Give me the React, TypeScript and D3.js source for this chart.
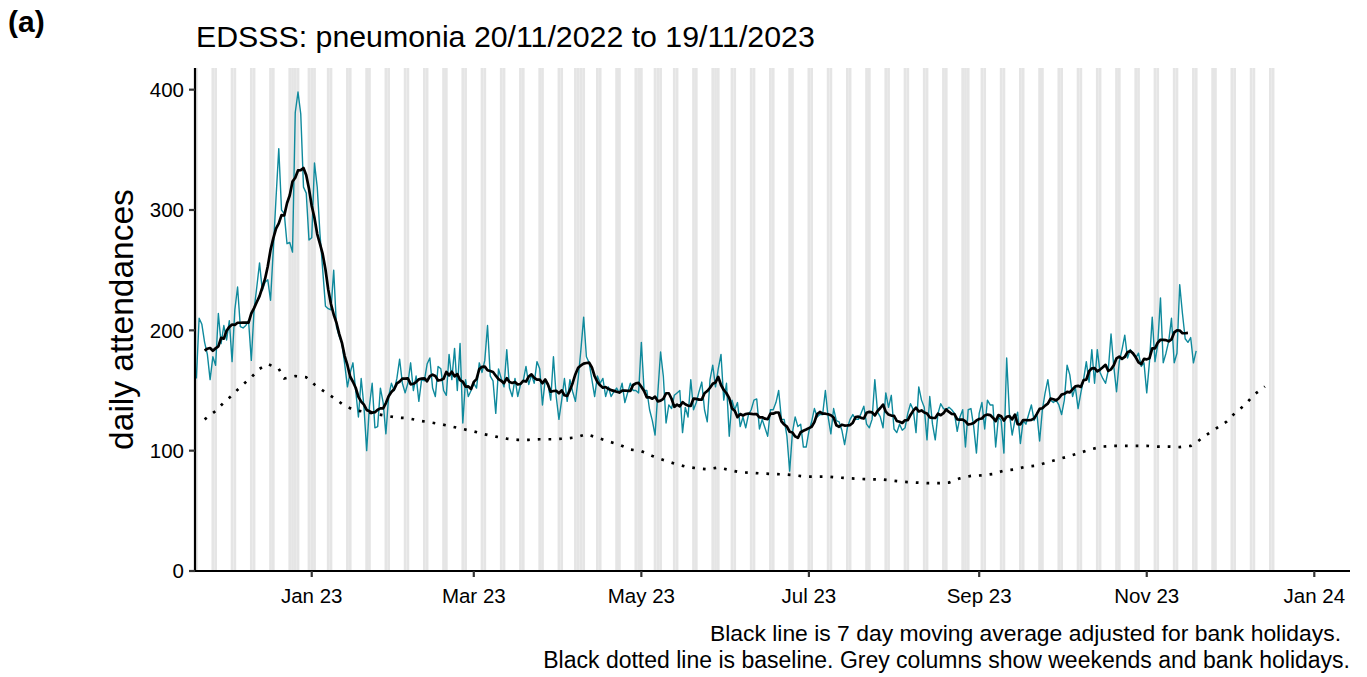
import React from "react";
import * as d3 from "d3";

// Daily attendances, one value per day starting Sunday 20/11/2022 (rows = weeks Sun..Sat)
const dailyCounts: number[] = [
  160, 210, 205, 190, 180, 159, 178,
  171, 214, 189, 204, 192, 208, 174,
  217, 236, 203, 202, 204, 208, 175,
  217, 236, 256, 233, 240, 242, 225,
  267, 310, 351, 300, 297, 272, 273,
  265, 381, 398, 380, 319, 314, 275,
  277, 339, 319, 280, 250, 220, 218,
  217, 250, 203, 195, 189, 172, 153,
  165, 173, 150, 128, 160, 137, 100,
  137, 156, 119, 120, 152, 140, 114,
  145, 156, 150, 160, 176, 156, 148,
  156, 173, 150, 162, 141, 159, 158,
  172, 177, 152, 145, 170, 168, 150,
  146, 180, 159, 185, 150, 189, 123,
  159, 145, 150, 156, 152, 173, 165,
  175, 204, 162, 158, 131, 168, 160,
  153, 184, 152, 145, 160, 145, 155,
  158, 170, 155, 163, 156, 174, 168,
  138, 159, 155, 142, 178, 145, 126,
  142, 160, 141, 159, 149, 141, 160,
  184, 211, 178, 173, 159, 145, 162,
  156, 160, 145, 153, 145, 149, 152,
  148, 156, 140, 148, 156, 150, 150,
  148, 190, 150, 150, 134, 125, 113,
  148, 182, 162, 123, 138, 135, 146,
  148, 150, 115, 136, 128, 159, 134,
  140, 149, 157, 134, 124, 159, 171,
  153, 168, 180, 142, 156, 112, 142,
  134, 140, 120, 128, 119, 130, 134,
  142, 143, 118, 126, 119, 112, 134,
  134, 140, 150, 126, 126, 112, 83,
  115, 128, 120, 122, 103, 103, 116,
  124, 135, 128, 130, 130, 150, 128,
  114, 135, 125, 124, 117, 105, 119,
  126, 130, 126, 126, 131, 137, 122,
  119, 126, 159, 132, 128, 119, 148,
  136, 146, 118, 115, 122, 117, 119,
  131, 139, 134, 115, 153, 142, 136,
  109, 145, 122, 109, 131, 139, 135,
  134, 136, 134, 131, 116, 128, 134,
  103, 134, 135, 120, 98, 131, 140,
  118, 142, 138, 138, 103, 128, 125,
  98, 177, 131, 113, 125, 132, 106,
  125, 122, 130, 138, 125, 131, 108,
  134, 148, 159, 142, 140, 142, 138,
  130, 142, 171, 163, 145, 153, 135,
  148, 159, 174, 157, 184, 156, 184,
  165, 160, 156, 167, 197, 170, 149,
  174, 184, 196, 177, 184, 181, 177,
  181, 170, 173, 148, 174, 211, 174,
  188, 227, 173, 181, 191, 210, 173,
  181, 238, 214, 193, 190, 194, 173,
  183,
];

// Baseline: day offsets from 20/11/2022 and values
const baselineDays: number[] = [
  3, 7, 10, 13, 16, 20, 23, 26, 30, 32, 36, 40, 43, 46, 50, 53, 57, 69, 73, 77,
  81, 85, 89, 93, 97, 101, 105, 109, 113, 117, 121, 125, 130, 134, 138, 142, 146,
  150, 154, 158, 162, 166, 170, 174, 178, 182, 186, 190, 194, 198, 202, 206, 210,
  214, 218, 222, 226, 230, 234, 238, 242, 246, 250, 254, 258, 262, 266, 270, 274,
  278, 282, 286, 290, 294, 298, 302, 306, 310, 314, 318, 322, 326, 330, 334, 338,
  342, 346, 350, 354, 358, 362, 364, 367, 371, 375, 378, 382, 385, 389,
];
const baselineValues: number[] = [
  126, 133, 140, 146, 153, 161, 168, 172, 168, 160, 162, 161, 155, 150, 144, 139, 134, 129, 127.5, 127,
  125, 123.6, 122, 120, 118, 116, 113.6, 111.7, 110, 109, 109, 109.5, 109.5, 110, 111, 113.6, 110.8,
  107.7, 105, 101, 99.6, 95.6, 92.3, 89.3, 86.8, 85.4, 84.6, 86, 84, 82, 81.7, 81, 80.6,
  80.3, 79.5, 78.4, 78.4, 78.4, 77.6, 77, 76.5, 76.2, 76, 75, 74, 73.5, 73, 73, 73.5,
  77, 79, 79.5, 80.6, 83.4, 84.5, 86.7, 87.6, 90.4, 93, 95.6, 98.4, 101.4, 103.4, 104, 104,
  104, 104, 103.4, 103.4, 103, 104, 106.7, 112, 118, 124, 131, 138.6, 146.4, 153.3,
];

const bankHolidays: string[] = [
  "2022-12-26", "2022-12-27", "2023-01-02", "2023-04-07", "2023-04-10",
  "2023-05-01", "2023-05-08", "2023-05-29", "2023-08-28",
];
const shadeEnd = "2023-12-17";

const xTickDates: string[] = [
  "2023-01-01", "2023-03-01", "2023-05-01", "2023-07-01", "2023-09-01", "2023-11-01", "2024-01-01",
];
const yTicks: number[] = [0, 100, 200, 300, 400];

const START = Date.UTC(2022, 10, 20);
const DAY = 86400000;
const FONT = "'Liberation Sans', Arial, Helvetica, sans-serif";

export default function App() {
  const W = 1367;
  const H = 677;
  const left = 195;
  const right = 1350;
  const top = 68;
  const bottom = 571;

  const x = d3
    .scaleUtc()
    .domain([new Date(Date.UTC(2022, 10, 19, 12)), new Date(Date.UTC(2024, 0, 14))])
    .range([left, right]);
  const y = d3.scaleLinear().domain([0, 418]).range([bottom, top]);

  const dayDate = (d: number) => new Date(START + d * DAY);

  // grey columns
  const bh = new Set(bankHolidays);
  const endShade = Date.parse(shadeEnd + "T00:00:00Z");
  const shaded: number[] = [];
  for (let d = -1; START + d * DAY <= endShade; d++) {
    const dt = dayDate(d);
    const wd = dt.getUTCDay();
    const iso = dt.toISOString().slice(0, 10);
    if (wd === 0 || wd === 6 || bh.has(iso)) shaded.push(d);
  }

  const pts: [number, number][] = dailyCounts.map((v, i) => [i, v]);
  const ma: [number, number][] = [];
  for (let i = 3; i < dailyCounts.length - 3; i++) {
    const m = d3.mean(dailyCounts.slice(i - 3, i + 4)) as number;
    ma.push([i, m]);
  }
  const base: [number, number][] = baselineDays.map((d, i) => [d, baselineValues[i]]);

  const line = d3
    .line<[number, number]>()
    .x((p) => x(dayDate(p[0])))
    .y((p) => y(p[1]));

  const fmt = d3.utcFormat("%b %y");

  return (
    <svg
      width={W}
      height={H}
      style={{ position: "absolute", left: 0, top: 0, display: "block", background: "#fff" }}
      fontFamily={FONT}
    >
      <defs>
        <clipPath id="panel">
          <rect x={left} y={top} width={right - left} height={bottom - top} />
        </clipPath>
      </defs>
      <g clipPath="url(#panel)">
        {shaded.map((d) => {
          const x0 = x(new Date(START + (d - 0.5) * DAY));
          const x1 = x(new Date(START + (d + 0.5) * DAY));
          return <rect key={d} x={x0} y={top} width={x1 - x0} height={bottom - top} fill="#e5e5e5" />;
        })}
        <path d={line(pts) || ""} fill="none" stroke="#0f8a9d" strokeWidth={1.4} strokeLinejoin="round" />
        <path d={line(ma) || ""} fill="none" stroke="#000" strokeWidth={2.7} strokeLinejoin="round" />
        <path
          d={line(base) || ""}
          fill="none"
          stroke="#000"
          strokeWidth={2.7}
          strokeDasharray="2.7 8"
        />
      </g>

      {/* axes */}
      <line x1={left} x2={right} y1={bottom} y2={bottom} stroke="#000" strokeWidth={2.2} />
      <line x1={left} x2={left} y1={top} y2={bottom + 1.1} stroke="#000" strokeWidth={2.2} />
      {xTickDates.map((s) => {
        const dt = new Date(s + "T00:00:00Z");
        const xx = x(dt);
        return (
          <g key={s}>
            <line x1={xx} x2={xx} y1={bottom} y2={bottom + 6} stroke="#333" strokeWidth={2.2} />
            <text x={xx} y={603} textAnchor="middle" fontSize={20.5} fill="#000">
              {fmt(dt)}
            </text>
          </g>
        );
      })}
      {yTicks.map((t) => (
        <g key={t}>
          <line x1={left - 6} x2={left} y1={y(t)} y2={y(t)} stroke="#333" strokeWidth={2.2} />
          <text x={left - 11} y={y(t)} dy="0.35em" textAnchor="end" fontSize={20.5} fill="#000">
            {t}
          </text>
        </g>
      ))}

      <text
        transform={`translate(133,${(top + bottom) / 2}) rotate(-90)`}
        textAnchor="middle"
        fontSize={33.5}
        fill="#000"
      >
        daily attendances
      </text>

      <text x={196} y={47} fontSize={30.3} fill="#000">
        EDSSS: pneumonia 20/11/2022 to 19/11/2023
      </text>
      <text x={8} y={32} fontSize={30} fontWeight="bold" fill="#000">
        (a)
      </text>

      <text x={1341} y={641} textAnchor="end" fontSize={22.9} fill="#000">
        Black line is 7 day moving average adjusted for bank holidays.
      </text>
      <text x={1350} y={668} textAnchor="end" fontSize={23} fill="#000">
        Black dotted line is baseline. Grey columns show weekends and bank holidays.
      </text>
    </svg>
  );
}
